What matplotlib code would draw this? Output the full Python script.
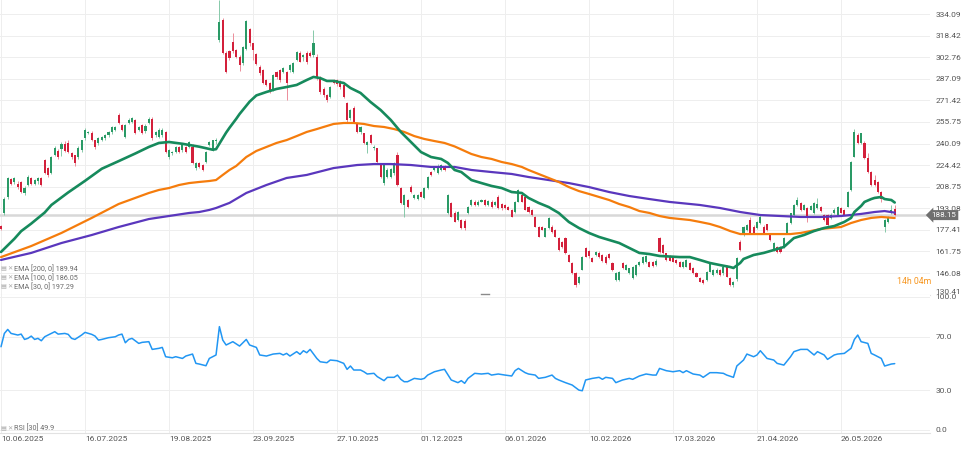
import matplotlib
matplotlib.use("Agg")
import matplotlib.pyplot as plt
import matplotlib.transforms as mtransforms
from matplotlib.lines import Line2D

plt.rcParams['font.family'] = ['Roboto', 'DejaVu Sans']

# daily candles (bar 0 = 10.06.2025)
opens = [
    180, 190, 201, 214, 212, 211, 212, 204, 210, 215,
    211, 213, 215, 228, 222, 219, 232, 235, 236, 240,
    240.5, 233, 231.8, 230, 235.4, 244, 248, 248, 242.7, 240.5,
    242.7, 244, 246.3, 248.5, 250, 260.8, 253.5, 244.8, 255, 255.7,
    257.2, 250, 253.5, 249, 255, 258, 246.3, 244.8, 246.3, 248.5,
    230.3, 233, 234, 237.6, 235.4, 237.6, 237.6, 237.6, 222.3, 226,
    224.5, 226.7, 239, 235.4, 242, 315, 330, 306, 307, 314,
    308, 303, 298.3, 309, 323, 312.8, 305, 295.9, 293.4, 286,
    283.8, 279, 292, 293.4, 292, 292, 293.4, 292.2, 300.7, 305.6,
    303, 306, 306, 304.3, 303, 288.6, 280, 275.3, 274, 286,
    286, 285, 282.6, 269.3, 258.4, 265.7, 254.8, 248.7, 247.5, 239,
    246.3, 236.6, 236.6, 224.5, 211.2, 216, 216, 218.5, 231.8, 207.6,
    195.5, 199, 208.8, 200.3, 200, 205, 200.3, 207.6, 219.7, 220.9,
    219, 221, 223, 189.5, 196.7, 189.5, 184.6, 184.6, 184, 189.5,
    195.5, 198, 195.5, 198, 199, 195.5, 198, 195.5, 201.5, 196,
    195.5, 194.3, 191.9, 190.6, 197.9, 202.8, 201.5, 194.3, 191.9, 187,
    179.8, 179.8, 172.5, 178.6, 179.8, 177.3, 171.3, 168.9, 171.3, 159.2,
    153.2, 145.9, 138.6, 148.3, 164, 162, 156.8, 159.2, 161, 159,
    158, 160, 153.2, 141.1, 141.1, 153.2, 148.3, 146, 142.3, 144.7,
    152, 153.2, 154, 154.4, 154, 152, 171.3, 166.5, 160.4, 158,
    158, 155.6, 154.4, 150.8, 150.8, 153.2, 149.6, 145.9, 142.3, 141.1,
    141.1, 147, 144.7, 146, 148.3, 146, 150.8, 142.3, 137.4, 142,
    168.9, 173.7, 177.3, 184.6, 179.8, 178.6, 182.2, 179.8, 181.5, 173.7,
    162.8, 165.2, 165.2, 165.2, 175, 182.2, 188.2, 195.5, 196.7, 192,
    193.1, 192, 189.5, 193, 194, 188.2, 188.2, 186, 189.5, 188,
    193, 192, 194.3, 206.4, 230.5, 246.3, 240.3, 240.3, 229.4, 219.7,
    213.6, 212.4, 205, 179.8, 183.4, 189.5, 192.4,
]
highs = [
    181, 201, 216, 215, 216, 213, 213, 209, 217, 216,
    214, 216, 216, 229, 223, 231, 238, 236, 241, 242,
    243, 234, 232, 238, 243, 251, 249.5, 249, 243, 245,
    245.5, 247, 249, 253, 253, 262.5, 254, 254, 258.5, 259,
    258, 253, 254, 254, 259, 259, 249, 251, 251, 249,
    236, 235, 238.5, 238, 240, 238, 242, 240, 227, 227,
    225, 235, 242, 243, 244, 344, 331, 307, 308, 320,
    309, 304, 311, 330, 324, 313, 306, 297, 294, 287,
    285, 290.5, 293, 294, 295.5, 293, 298, 299, 307, 307,
    305, 307, 307, 322.5, 305, 289, 281, 276, 282, 287,
    287, 286, 284, 270, 265, 267, 256, 253, 248, 242,
    247, 239, 237, 225, 225, 222, 222.5, 226.5, 234.2, 208.5,
    203.5, 200, 210, 203.5, 203.5, 206, 208.3, 216.8, 220.5, 224,
    225, 225, 224.5, 203.5, 197.9, 191, 191, 185.5, 185, 195,
    199.8, 199, 199, 200, 200, 199, 199, 198.5, 203, 197,
    196, 195, 192.5, 198.5, 207, 203.5, 202, 195, 192.5, 187.5,
    180.5, 180.5, 179, 186.5, 181, 178, 172, 169.5, 172, 160,
    154, 146.5, 144, 158.5, 165, 163, 157.5, 162, 162, 160,
    159, 161, 154, 146.5, 147.5, 154, 152.5, 150, 151.5, 152.5,
    155, 158.5, 159, 155, 155, 156, 172, 167, 161, 159,
    158.5, 156, 155, 155, 156, 154, 150.5, 146.5, 143, 141.5,
    147.5, 154, 149, 149.5, 149, 152, 152, 143, 140.5, 158,
    170, 180.5, 181.5, 186.5, 181, 184, 189, 181, 182, 174.5,
    168.5, 166, 166, 172, 183, 190, 196, 201.5, 197.5, 196.5,
    194, 195.5, 197.5, 200.3, 195, 189, 189, 189.5, 193, 195,
    194, 192.5, 206, 227.5, 250.4, 248, 248, 242, 233, 220.5,
    217.5, 213, 206, 185, 187.5, 195.5, 195.5,
]
lows = [
    177, 188, 200, 210, 211, 207, 204, 203, 209, 210,
    210, 211, 209, 218, 216, 218, 231, 229, 231, 234,
    233, 229, 224, 229, 234, 243, 247, 242, 236, 239,
    242, 243, 245, 247, 249, 254, 249, 244, 254, 255,
    247, 249, 247, 248, 254, 243, 245, 244, 245, 233,
    229, 232, 233, 233, 234, 233, 237, 225, 221, 222,
    220, 226, 238, 235, 240, 314, 305, 291, 301, 306,
    302, 292.7, 297, 308, 311, 300.7, 297, 290, 283, 282,
    277, 278, 287, 285, 291, 271.7, 292, 291, 300, 299,
    300, 298, 303, 303, 286, 276, 274, 270.5, 273, 283,
    282, 280, 273, 256, 257, 255, 248, 247, 239.5, 233,
    239.5, 235.5, 226, 215, 210, 215, 215, 217, 209, 196,
    187, 193.5, 204.5, 199.5, 199, 201, 199.5, 207, 216.8, 220,
    218, 220, 220, 189, 186.5, 183, 184, 178, 177.5, 189,
    195, 195, 195, 197.5, 195, 195, 193.5, 195, 192.5, 192,
    192.5, 191.5, 186.5, 190, 197.5, 197.5, 191.5, 190, 187.5, 179.5,
    172, 177, 172, 178, 175.5, 172, 162, 164.5, 160, 154,
    145.5, 136, 138, 148, 157.5, 157, 154, 158.5, 157, 154,
    152.5, 156, 147.5, 140.5, 140.5, 149, 148, 145.5, 142, 144,
    151.5, 153, 153.5, 150.5, 150.5, 151, 161, 160, 155, 154.5,
    154, 153, 150.5, 150, 150.5, 148, 145.5, 143, 139.5, 138,
    140.5, 146.5, 144, 145.5, 144.3, 145, 143, 137, 136, 140,
    162, 173, 176.5, 174.5, 174.5, 178, 181.5, 174.5, 176.5, 169.5,
    162, 161, 161, 164.5, 174.5, 181.5, 187.5, 195, 191, 191.5,
    183.4, 191.5, 189, 192.5, 190.5, 184, 180.5, 185.5, 189, 187.5,
    189.5, 188, 194, 206, 230, 239.5, 239.5, 229, 219, 209.5,
    209.5, 204.5, 198, 176, 182.5, 189, 187.5,
]
closes = [
    178, 200, 215, 211, 215, 208.5, 205, 208, 215.8, 211,
    213.6, 215, 210, 219, 217, 230, 237, 230, 240, 235,
    234, 230, 226, 237, 242.7, 250, 248.5, 242.7, 237.6, 244,
    244.8, 246.3, 248.5, 252, 252, 255, 250, 253.5, 257.2, 258.6,
    248, 252, 248, 253, 258, 244, 248.5, 250, 250, 234,
    235.4, 234, 237.6, 234, 239, 234, 241.2, 226, 226, 223,
    220.9, 234, 241.2, 242.7, 243, 328.5, 306, 292, 302, 307,
    303, 297, 310.4, 329, 312.8, 308, 298, 291, 283.8, 282.6,
    277.7, 289.8, 288.6, 286, 294.9, 283.8, 297, 298.3, 306.7, 299.5,
    304, 299, 303.6, 312.8, 288, 277.7, 275, 272, 281.3, 284,
    283, 281.3, 274, 257.2, 264.4, 256, 248.7, 252.3, 240.3, 241.4,
    240.3, 237.8, 226.9, 216, 224.5, 221, 221.7, 225.8, 210, 196.7,
    202.8, 194.3, 205.1, 202.8, 202.8, 201.5, 207.6, 216, 217.3, 223.3,
    223.3, 224.5, 221, 202.8, 187, 183.4, 190.6, 178.6, 179, 194.3,
    199.1, 195.5, 198, 199, 195.5, 198.5, 194.3, 198, 193.1, 193,
    193.1, 191.9, 187, 197.9, 206.4, 197.9, 191.9, 190.6, 188.2, 179.8,
    172.5, 177.3, 178.6, 185.9, 176, 172.5, 162.8, 165.2, 160.4, 154.4,
    145.9, 137.4, 143.5, 158, 158, 158.5, 154.4, 161.6, 158, 155,
    153.2, 157, 148.3, 146, 147, 149.6, 152, 149.5, 150.8, 152,
    154.4, 158, 158.5, 150.8, 151, 155, 161.6, 160.4, 155.6, 155,
    154.4, 153.2, 150.8, 154.4, 155.6, 148.3, 145.9, 143.5, 139.9, 138.6,
    147, 153.2, 148.3, 148.5, 144.7, 150.5, 143.5, 137.4, 139.9, 157,
    162.8, 179.8, 181, 175, 175, 183.4, 187, 175, 177, 170.1,
    167.7, 161.6, 161.6, 171.3, 182.2, 189.5, 195.5, 199.1, 191.9, 195.5,
    187, 195, 196.7, 196, 191, 184.6, 181, 188.5, 192, 194,
    190, 188.5, 205.1, 226.9, 248.7, 240.3, 247.5, 229.4, 219.7, 210,
    210, 205.1, 200, 184.6, 187, 191.9, 188.15,
]

# moving averages, sampled along the curves
ema30_idx = [0, 4, 6, 9, 13, 15, 20, 25, 30, 35, 40, 44, 47, 50, 54, 59, 63, 64, 65, 66,
             67, 68, 70, 71, 73, 74, 76, 79, 82, 85, 88, 91, 93, 95, 97, 99, 102, 104, 107, 110,
             113, 116, 119, 122, 125, 128, 131, 133, 135, 137, 140, 143, 146, 149, 152, 155, 157, 160, 163, 166,
             169, 172, 175, 178, 181, 184, 187, 190, 193, 196, 202, 205, 208, 211, 214, 217, 218, 220, 221, 224,
             227, 230, 233, 236, 239, 242, 245, 248, 251, 253, 254, 256, 257, 259, 260, 262, 263, 265, 266]
ema30_vals = [161.4, 171, 176.5, 182, 190, 195.5, 204.6, 213, 221.8, 227.3, 232.9, 237.6, 240.5, 241.2, 239.9, 237.8, 235.6, 236, 240, 244,
              248, 251.5, 258, 261.5, 267.5, 270.5, 275, 277.5, 279.7, 281.1, 282.6, 286.2, 288.4, 287.6, 285.5, 285.5, 284, 280.4, 276.8, 270.2,
              264.4, 257.2, 248.5, 241.2, 233.9, 230.3, 228.9, 226, 220.9, 219.4, 213.6, 211.4, 209.3, 207.8, 204.9, 204.2, 200.6, 197, 194, 189.7,
              183.2, 178.8, 175.2, 172.3, 170.1, 167.9, 164.3, 160.7, 159.9, 158.5, 157.7, 157.7, 155.6, 153.4, 151.9, 150.5, 149.8, 153.4, 156.3, 159.2,
              160.7, 162.8, 165, 171.5, 173.7, 176.6, 178.8, 180.2, 183.2, 186.1, 190.4, 194.8, 197.7, 199.8, 200.6, 201.3, 199.8, 199.1, 197.29]
ema100_idx = [0, 9, 18, 27, 35, 44, 47, 50, 53, 56, 59, 62, 64, 66, 68, 70, 73, 76, 79, 82,
              85, 88, 91, 94, 96, 99, 102, 105, 108, 111, 114, 117, 120, 123, 126, 129, 132, 135, 137, 140,
              143, 146, 149, 152, 155, 157, 160, 163, 166, 169, 172, 175, 178, 181, 184, 187, 190, 193, 196, 199,
              205, 208, 211, 214, 217, 220, 235, 238, 241, 244, 247, 250, 253, 256, 259, 262, 266]
ema100_vals = [157.7, 165.7, 175.2, 186.1, 196.2, 204.2, 206.4, 207.8, 210, 211.4, 212.2, 212.9, 213.6, 217.3, 220.9, 223.8, 230.3, 234.7, 237.6, 240.5,
               242.6, 245.5, 248.5, 250.6, 252.1, 254.3, 255, 255, 254.3, 252.8, 252.1, 250.6, 248.5, 245.5, 243.4, 241.9, 240.5, 238, 235.8, 232.5,
               230.3, 228.9, 226.7, 225.2, 223.1, 220.9, 218, 215.1, 212.2, 208.5, 205.6, 203.5, 201.3, 199.1, 196.2, 194, 191.1, 189.7, 187.5, 186.1,
               184.6, 183.2, 181.7, 179.5, 176.6, 174.4, 174.4, 175.2, 176.6, 178.1, 178.8, 179.5, 182.4, 184.6, 186.1, 186.8, 186.05]
ema200_idx = [0, 9, 18, 27, 35, 44, 50, 56, 59, 62, 64, 68, 73, 79, 85, 91, 99, 106, 111, 116,
              122, 128, 135, 140, 146, 152, 157, 163, 169, 175, 181, 187, 193, 199, 208, 214, 220, 226, 232, 238,
              244, 250, 256, 260, 263, 266]
ema200_vals = [155.6, 160.7, 167.9, 173.7, 179.5, 185.3, 187.5, 189.7, 190.4, 191.9, 193.3, 197, 204.2, 210, 215.1, 217.3, 222.3, 224.5, 225.2, 225.2,
               224.5, 223.1, 223.1, 220.9, 219.4, 218, 215.8, 213.6, 211.4, 208.5, 204.9, 202, 199.8, 197.7, 195.5, 193.3, 190.4, 188.2, 187.5, 186.8,
               186.8, 187.5, 189, 190.4, 191.1, 189.94]

# RSI(30)
rsi_idx = [0, 1, 2, 3, 5, 6, 7, 8, 9, 10, 11, 12, 13, 14, 16, 17, 19, 20, 21, 22,
           24, 25, 27, 28, 29, 30, 32, 34, 35, 36, 37, 38, 39, 41, 42, 44, 45, 47, 48, 49,
           51, 52, 54, 55, 57, 58, 59, 61, 62, 64, 65, 66, 67, 69, 71, 73, 74, 76, 77, 79,
           81, 83, 84, 85, 86, 88, 89, 90, 91, 92, 94, 95, 97, 98, 100, 102, 103, 104, 105, 107,
           108, 109, 111, 112, 114, 115, 117, 118, 119, 120, 121, 123, 125, 126, 127, 129, 131, 132, 134, 136,
           137, 138, 139, 141, 143, 145, 146, 148, 150, 152, 153, 154, 156, 157, 159, 160, 162, 164, 165, 166,
           168, 170, 172, 173, 174, 176, 178, 179, 180, 182, 183, 185, 187, 188, 190, 192, 194, 195, 196, 198,
           200, 202, 203, 204, 206, 208, 209, 211, 213, 215, 216, 218, 219, 221, 222, 224, 225, 226, 228, 230,
           231, 233, 235, 236, 238, 240, 242, 243, 245, 246, 248, 249, 251, 253, 254, 255, 256, 258, 259, 260,
           262, 263, 265, 266]
rsi_vals = [62.6, 72.6, 75.6, 72.6, 71.4, 72.1, 68.1, 68.9, 70.6, 68.1, 68.9, 67.1, 70.1, 71.4, 73.9, 72.1, 72.6, 71.9, 68.9, 68.1,
            71.4, 73.4, 71.9, 70.6, 67.6, 68.1, 69.4, 70.1, 71.4, 72.1, 65.6, 68.1, 68.9, 65.1, 65.9, 66.4, 60.6, 61.4, 62.1, 55.1,
            54.3, 55.1, 53.8, 55.6, 57.1, 50.1, 49.6, 48.3, 53.8, 56.4, 77.7, 67.6, 63.9, 66.4, 63.1, 68.1, 63.9, 62.1, 56.4, 55.6,
            57.1, 57.6, 56.4, 57.6, 55.6, 58.9, 56.9, 59.6, 58.1, 60.6, 53.8, 51.3, 50.6, 52.6, 52.1, 50.1, 45.6, 48.1, 45.1, 45.1,
            43.8, 42.1, 42.6, 40.1, 37.1, 39.6, 39.6, 41.3, 38.1, 36.3, 36.3, 38.8, 38.1, 38.8, 41.3, 43.8, 45.1, 45.6, 37.6, 35.6,
            37.1, 35.1, 38.8, 42.6, 42.1, 42.6, 41.3, 42.1, 41.3, 40.6, 44.6, 46.3, 43.1, 42.1, 41.3, 38.8, 39.6, 41.3, 38.8, 37.6,
            35.6, 33.8, 30.0, 29.5, 37.6, 38.8, 39.6, 38.1, 39.6, 38.8, 35.6, 37.6, 38.8, 38.1, 40.6, 42.1, 41.3, 41.3, 46.3, 44.6,
            43.8, 44.6, 43.1, 44.6, 42.1, 41.3, 39.6, 43.1, 43.1, 42.6, 41.3, 39.6, 48.1, 52.6, 57.1, 55.1, 56.4, 59.6, 53.8, 52.6,
            50.1, 48.8, 55.1, 58.9, 60.6, 60.6, 56.4, 58.9, 56.4, 53.1, 56.4, 57.1, 57.6, 61.4, 68.1, 71.4, 66.4, 65.1, 57.6, 56.4,
            53.8, 48.1, 49.6, 49.9]

date_idx = [0, 25, 50, 75, 100, 125, 150, 175, 200, 225, 250]
date_labels = ['10.06.2025', '16.07.2025', '19.08.2025', '23.09.2025', '27.10.2025', '01.12.2025',
               '06.01.2026', '10.02.2026', '17.03.2026', '21.04.2026', '26.05.2026']
price_ticks = [130.41, 146.08, 161.75, 177.41, 193.08, 208.75, 224.42, 240.09,
               255.75, 271.42, 287.09, 302.76, 318.42, 334.09]
rsi_ticks = [0, 30, 70, 100]
last_price = 188.15
ema_legend = ['EMA [200, 0] 189.94', 'EMA [100, 0] 186.05', 'EMA [30, 0] 197.29']
rsi_legend = 'RSI [30] 49.9'
countdown = '14h 04m'

assert len(opens) == len(highs) == len(lows) == len(closes)
assert len(rsi_idx) == len(rsi_vals)
assert len(ema30_idx) == len(ema30_vals)
assert len(ema100_idx) == len(ema100_vals)
assert len(ema200_idx) == len(ema200_vals)

W, H = 962, 462
fig = plt.figure(figsize=(W / 100, H / 100), dpi=100)
ax = fig.add_axes([0, 1 - 295 / H, 930 / W, 295 / H])
ax_rsi = fig.add_axes([0, 1 - 433 / H, 930 / W, 138 / H], sharex=ax)

GRID = '#eeeeee'
TXT = '#555555'

# candles
xs = list(range(len(closes)))
up = [c >= o for o, c in zip(opens, closes)]
body_col = ['#2a9a66' if u else '#d3203b' for u in up]
wick_col = ['#86c9a9' if u else '#ec8d9a' for u in up]
ax.axhline(last_price, color='#d8d8d8', lw=1.8, zorder=1)
ax.vlines(xs, lows, highs, colors=wick_col, lw=0.7, zorder=2)
ax.bar(xs, [c - o for o, c in zip(opens, closes)], bottom=opens, width=0.62,
       color=body_col, zorder=3)

# EMAs on top
line_kw = dict(solid_capstyle='round', solid_joinstyle='round')
ax.plot(ema200_idx, ema200_vals, color='#5a37bd', lw=1.6, zorder=4, **line_kw)
ax.plot(ema100_idx, ema100_vals, color='#f57c0c', lw=1.6, zorder=4, **line_kw)
ax.plot(ema30_idx, ema30_vals, color='#168a5c', lw=1.9, zorder=5, **line_kw)

ax.set_xlim(-0.3, 276.5)
ax.set_ylim(130.17, 344.25)
ax.set_yticks(price_ticks)
ax.set_yticklabels([f'{v:.2f}' for v in price_ticks])
ax.set_xticks(date_idx)
ax.yaxis.tick_right()
ax.grid(True, color=GRID, lw=0.7)
ax.set_axisbelow(True)
ax.tick_params(axis='both', length=0, labelsize=6, colors=TXT, pad=4)
ax.tick_params(axis='x', labelbottom=False)
ax.get_yticklabels()[0].set_va('bottom')  # lowest label sits just above the divider
for s in ['top', 'left', 'right']:
    ax.spines[s].set_visible(False)
ax.spines['bottom'].set_color('#e2e2e2')

# last price tag
trans = mtransforms.blended_transform_factory(ax.transAxes, ax.transData)
ax.text(1.0015, last_price, f'{last_price:.2f}', transform=trans, ha='left', va='center',
        color='white', fontsize=5.8, clip_on=False, zorder=10,
        bbox=dict(boxstyle='larrow,pad=0.25', fc='#6f6f6f', ec='none'))

# RSI panel
ax_rsi.plot(rsi_idx, rsi_vals, color='#2196f3', lw=1.1, **line_kw)
ax_rsi.set_ylim(-2.26, 101.5)
ax_rsi.set_yticks(rsi_ticks)
ax_rsi.set_yticklabels([f'{v:.1f}' for v in rsi_ticks])
ax_rsi.yaxis.tick_right()
ax_rsi.set_xticks(date_idx)
ax_rsi.set_xticklabels(date_labels, ha='left')
ax_rsi.grid(True, color=GRID, lw=0.7)
ax_rsi.tick_params(axis='both', length=0, labelsize=6, colors=TXT)
ax_rsi.tick_params(axis='x', pad=2)
ax_rsi.tick_params(axis='y', pad=4)
for s in ['top', 'left', 'right']:
    ax_rsi.spines[s].set_visible(False)
ax_rsi.spines['bottom'].set_color('#e2e2e2')

# legends, small icons in front
for i, label in enumerate(ema_legend):
    y = 1 - (269 + 9 * i) / H
    fig.text(0.5 / W, y, '\u25a4', fontsize=4.5, color='#a8a8a8', va='center',
             family='DejaVu Sans')
    fig.text(7 / W, y, '\u2715', fontsize=4.5, color='#a8a8a8', va='center',
             family='DejaVu Sans')
    fig.text(14 / W, y, label, fontsize=5.2, color='#6a6a6a', va='center')
y = 1 - 428.5 / H
fig.text(0.5 / W, y, '\u25a4', fontsize=4.5, color='#a8a8a8', va='center', family='DejaVu Sans')
fig.text(7 / W, y, '\u2715', fontsize=4.5, color='#a8a8a8', va='center', family='DejaVu Sans')
fig.text(14 / W, y, rsi_legend, fontsize=5.2, color='#6a6a6a', va='center')

fig.text(897 / W, 1 - 282 / H, countdown, fontsize=6.3, color='#f7961f', va='center')

# little drag handle on the panel divider
fig.add_artist(Line2D([481 / W, 489 / W], [1 - 294 / H] * 2, color='#8a8a8a', lw=1))

fig.savefig('out.png', dpi=100)
